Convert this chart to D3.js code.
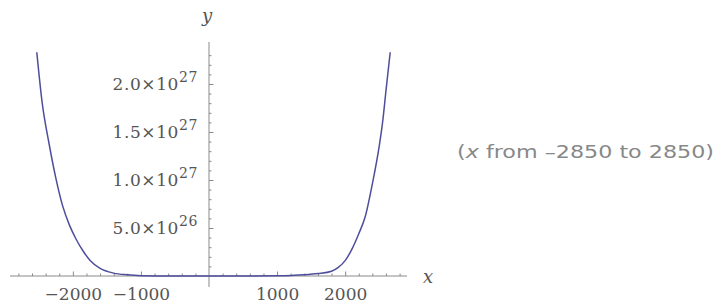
<!DOCTYPE html>
<html>
<head>
<meta charset="utf-8">
<script src="https://cdn.jsdelivr.net/npm/d3@7"></script>
<style>
  body { margin: 0; background: #fff; }
  svg { display: block; }
</style>
</head>
<body>
<div id="chart"></div>
<script>
// curve points (x, y)
var curveX = [-2530, -2450, -2350, -2250, -2150, -2050, -1950, -1850, -1750, -1600, -1400, -1200, -1000, -500,
    0, 500, 1000, 1200, 1400, 1600, 1800, 1900, 2000, 2100, 2200, 2300, 2400, 2500, 2550, 2600, 2662];
var curveY = [2.33e27, 1.80e27, 1.38e27, 1.02e27, 7.3e26, 5.3e26, 3.8e26, 2.6e26, 1.65e26, 8e25, 3e25, 1.2e25, 3.5e24, 1e23,
    0, 1e23, 2e24, 5e24, 1.2e25, 2.5e25, 5e25, 9e25, 1.6e26, 2.8e26, 4.4e26, 6.3e26, 9.6e26, 1.35e27, 1.6e27, 1.93e27, 2.33e27];

var xLabelTicks = [-2000, -1000, 1000, 2000];
var yLabelTicks = [5e26, 1e27, 1.5e27, 2e27];
var yMantissa = ["5.0", "1.0", "1.5", "2.0"];
var yExponent = ["26", "27", "27", "27"];
var xRange = [-2850, 2850];
var yTop = 2.333e27;

var w = 718;
var h = 307;

var svg = d3.select("#chart")
    .append("svg")
    .attr("width", w)
    .attr("height", h);

var xScale = d3.scaleLinear()
    .domain(xRange)
    .range([15, 403]);

var yScale = d3.scaleLinear()
    .domain([0, yTop])
    .range([276, 52]);

var axisColor = "#8a8a8a";
var labelColor = "#555";

// x axis line + ticks
var xMinor = d3.range(-2800, 2801, 200).filter(function (d) { return d % 1000 != 0; });
var xMajor = [-2000, -1000, 1000, 2000];

svg.append("g")
    .attr("transform", "translate(0," + yScale(0) + ")")
    .call(d3.axisTop(xScale).tickValues(xMinor).tickSize(2.5).tickFormat("").tickSizeOuter(0))
    .call(function (g) { g.select(".domain").remove(); })
    .selectAll("line").attr("stroke", axisColor);

svg.append("g")
    .attr("transform", "translate(0," + yScale(0) + ")")
    .call(d3.axisTop(xScale).tickValues(xMajor).tickSize(4.5).tickFormat("").tickSizeOuter(0))
    .call(function (g) { g.select(".domain").remove(); })
    .selectAll("line").attr("stroke", axisColor);

svg.append("line")
    .attr("x1", 10).attr("x2", 407)
    .attr("y1", yScale(0)).attr("y2", yScale(0))
    .attr("stroke", axisColor)
    .attr("stroke-width", 1);

// x labels
svg.append("g")
    .attr("transform", "translate(0," + yScale(0) + ")")
    .call(d3.axisBottom(xScale).tickValues(xLabelTicks).tickSize(0).tickPadding(12)
        .tickFormat(function (d) { return d < 0 ? "\u2212" + Math.abs(d) : d; }))
    .call(function (g) { g.select(".domain").remove(); })
    .selectAll("text")
    .attr("fill", labelColor)
    .style("font-family", "'DejaVu Serif', serif")
    .style("font-size", "17px");

// y axis line + ticks
var yMinor = d3.range(1e26, 2.31e27, 1e26).filter(function (d, i) { return (i + 1) % 5 != 0; });

var x0 = xScale(0);

svg.append("g")
    .attr("transform", "translate(" + x0 + ",0)")
    .call(d3.axisRight(yScale).tickValues(yMinor).tickSize(2.5).tickFormat("").tickSizeOuter(0))
    .call(function (g) { g.select(".domain").remove(); })
    .selectAll("line").attr("stroke", axisColor);

svg.append("g")
    .attr("transform", "translate(" + x0 + ",0)")
    .call(d3.axisRight(yScale).tickValues(yLabelTicks).tickSize(4.5).tickFormat("").tickSizeOuter(0))
    .call(function (g) { g.select(".domain").remove(); })
    .selectAll("line").attr("stroke", axisColor);

svg.append("line")
    .attr("x1", x0).attr("x2", x0)
    .attr("y1", 42).attr("y2", 287)
    .attr("stroke", axisColor)
    .attr("stroke-width", 1);

// y labels with superscript
var yLab = svg.selectAll(".ylab")
    .data(yLabelTicks)
    .enter()
    .append("text")
    .attr("class", "ylab")
    .attr("x", x0 - 11)
    .attr("y", function (d) { return yScale(d) + 6; })
    .attr("text-anchor", "end")
    .attr("fill", labelColor)
    .style("font-family", "'DejaVu Serif', serif")
    .style("font-size", "17px")
    .style("letter-spacing", "0.6px");

yLab.append("tspan")
    .text(function (d, i) { return yMantissa[i] + "\u00d710"; });

yLab.append("tspan")
    .attr("dy", -8)
    .style("font-size", "14px")
    .text(function (d, i) { return yExponent[i]; });

// axis names
svg.append("text")
    .attr("x", x0 - 2)
    .attr("y", 22)
    .attr("text-anchor", "middle")
    .attr("fill", labelColor)
    .style("font-family", "'DejaVu Serif', serif")
    .style("font-style", "italic")
    .style("font-size", "18px")
    .text("y");

svg.append("text")
    .attr("x", 428)
    .attr("y", 283)
    .attr("text-anchor", "middle")
    .attr("fill", labelColor)
    .style("font-family", "'DejaVu Serif', serif")
    .style("font-style", "italic")
    .style("font-size", "18px")
    .text("x");

// the curve
var points = curveX.map(function (d, i) { return [d, curveY[i]]; });

var line = d3.line()
    .x(function (d) { return xScale(d[0]); })
    .y(function (d) { return yScale(d[1]); })
    .curve(d3.curveMonotoneX);

svg.append("path")
    .datum(points)
    .attr("d", line)
    .attr("fill", "none")
    .attr("stroke", "#4e4e9c")
    .attr("stroke-width", 1.5);

// range note
var note = svg.append("text")
    .attr("x", 457)
    .attr("y", 158)
    .attr("fill", "#888")
    .attr("textLength", 257)
    .attr("lengthAdjust", "spacingAndGlyphs")
    .style("font-family", "'DejaVu Sans', sans-serif")
    .style("font-size", "18px");

note.append("tspan").text("(");
note.append("tspan").style("font-style", "italic").text("x");
note.append("tspan").text(" from \u20132850 to 2850)");
</script>
</body>
</html>
